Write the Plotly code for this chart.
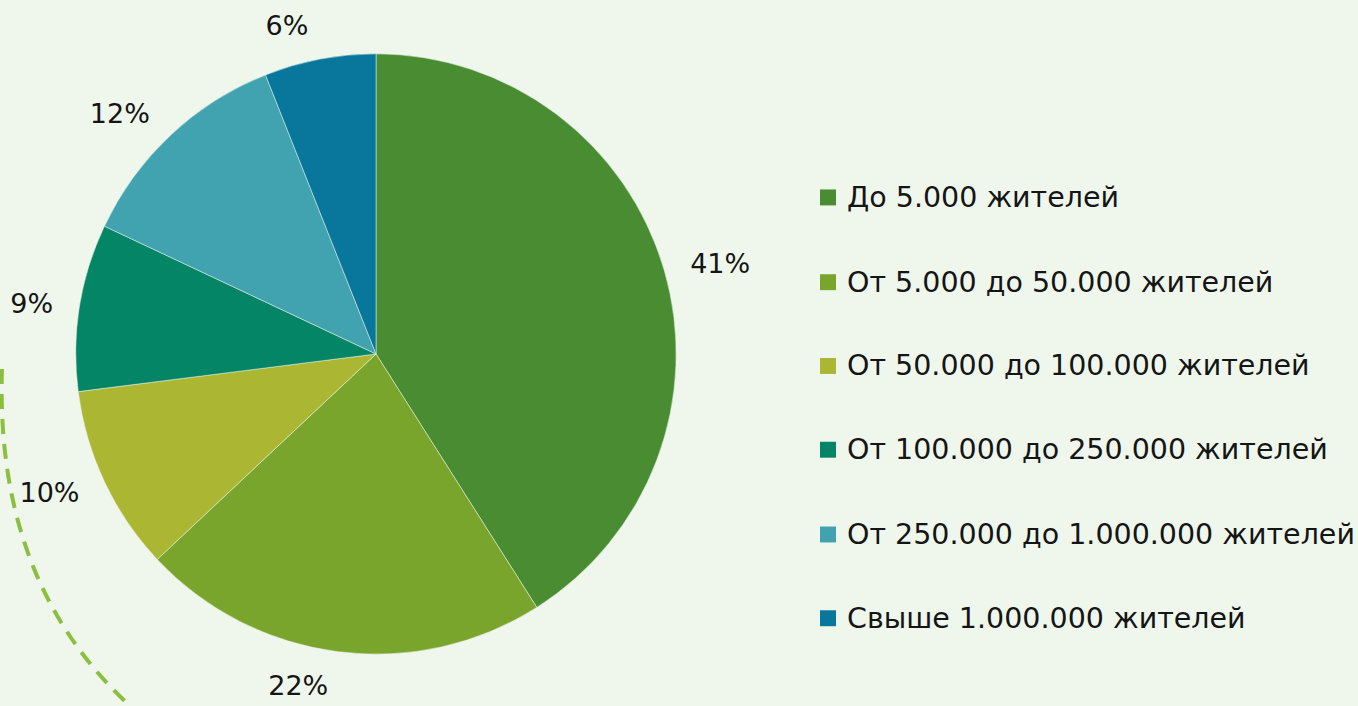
import plotly.graph_objects as go

categories = ["До 5.000 жителей", "От 5.000 до 50.000 жителей", "От 50.000 до 100.000 жителей",
              "От 100.000 до 250.000 жителей", "От 250.000 до 1.000.000 жителей", "Свыше 1.000.000 жителей"]
values = [41, 22, 10, 9, 12, 6]
colors = ["#4a8c32", "#7aa52d", "#abb733", "#048566", "#41a2b0", "#08779b"]

W, H = 1358, 706
BG = "#eff7ed"
FONT = "DejaVu Sans"

def px(x):
    return x / W

def py(y):
    return 1 - y / H

cx, cy, r = 376, 355, 301
r_lab = 320  # radius of the invisible pie that carries the outside labels

def dom(rad):
    return dict(x=[px(cx - rad), px(cx + rad)], y=[py(cy + rad), py(cy - rad)])

fig = go.Figure()
fig.add_trace(go.Pie(
    labels=categories, values=values, sort=False, direction="clockwise", rotation=0,
    marker=dict(colors=colors, line=dict(color=BG, width=0.5)),
    textinfo="none", domain=dom(r),
    showlegend=False, hoverinfo="label+percent",
))
fig.add_trace(go.Pie(
    labels=categories, values=values, sort=False, direction="clockwise", rotation=0,
    marker=dict(colors=["rgba(0,0,0,0)"] * len(values), line=dict(width=0)),
    textinfo="percent", textposition="outside", texttemplate="%{percent:.0%}",
    textfont=dict(family=FONT, size=27, color="#151515"),
    domain=dom(r_lab), showlegend=False, hoverinfo="skip",
))

shapes = []
annotations = []
leg_y = [198, 283, 367, 451, 536, 620]
for cat, col, yy in zip(categories, colors, leg_y):
    shapes.append(dict(type="rect", xref="paper", yref="paper",
                       x0=px(820), x1=px(836), y0=py(yy + 8), y1=py(yy - 8),
                       fillcolor=col, line=dict(width=0)))
    annotations.append(dict(text=cat, xref="paper", yref="paper", x=px(845), y=py(yy),
                            xanchor="left", yanchor="middle", showarrow=False,
                            font=dict(family=FONT, size=28.5, color="#151515")))

# decorative dashed arc
shapes.append(dict(type="path", xref="paper", yref="paper",
                   path=f"M {px(2)} {py(370)} Q {px(-5)} {py(582)} {px(128)} {py(706)}",
                   line=dict(color="#8bbf3f", width=4, dash="15px,10px")))

fig.update_layout(
    width=W, height=H, margin=dict(l=0, r=0, t=0, b=0),
    paper_bgcolor=BG, plot_bgcolor=BG,
    shapes=shapes, annotations=annotations,
)
fig.write_html("out.html", config={"displayModeBar": False},
               post_script="document.body.style.margin='0';document.body.style.padding='0';"
                           "document.body.style.background='#eff7ed';document.body.style.overflow='hidden';")
